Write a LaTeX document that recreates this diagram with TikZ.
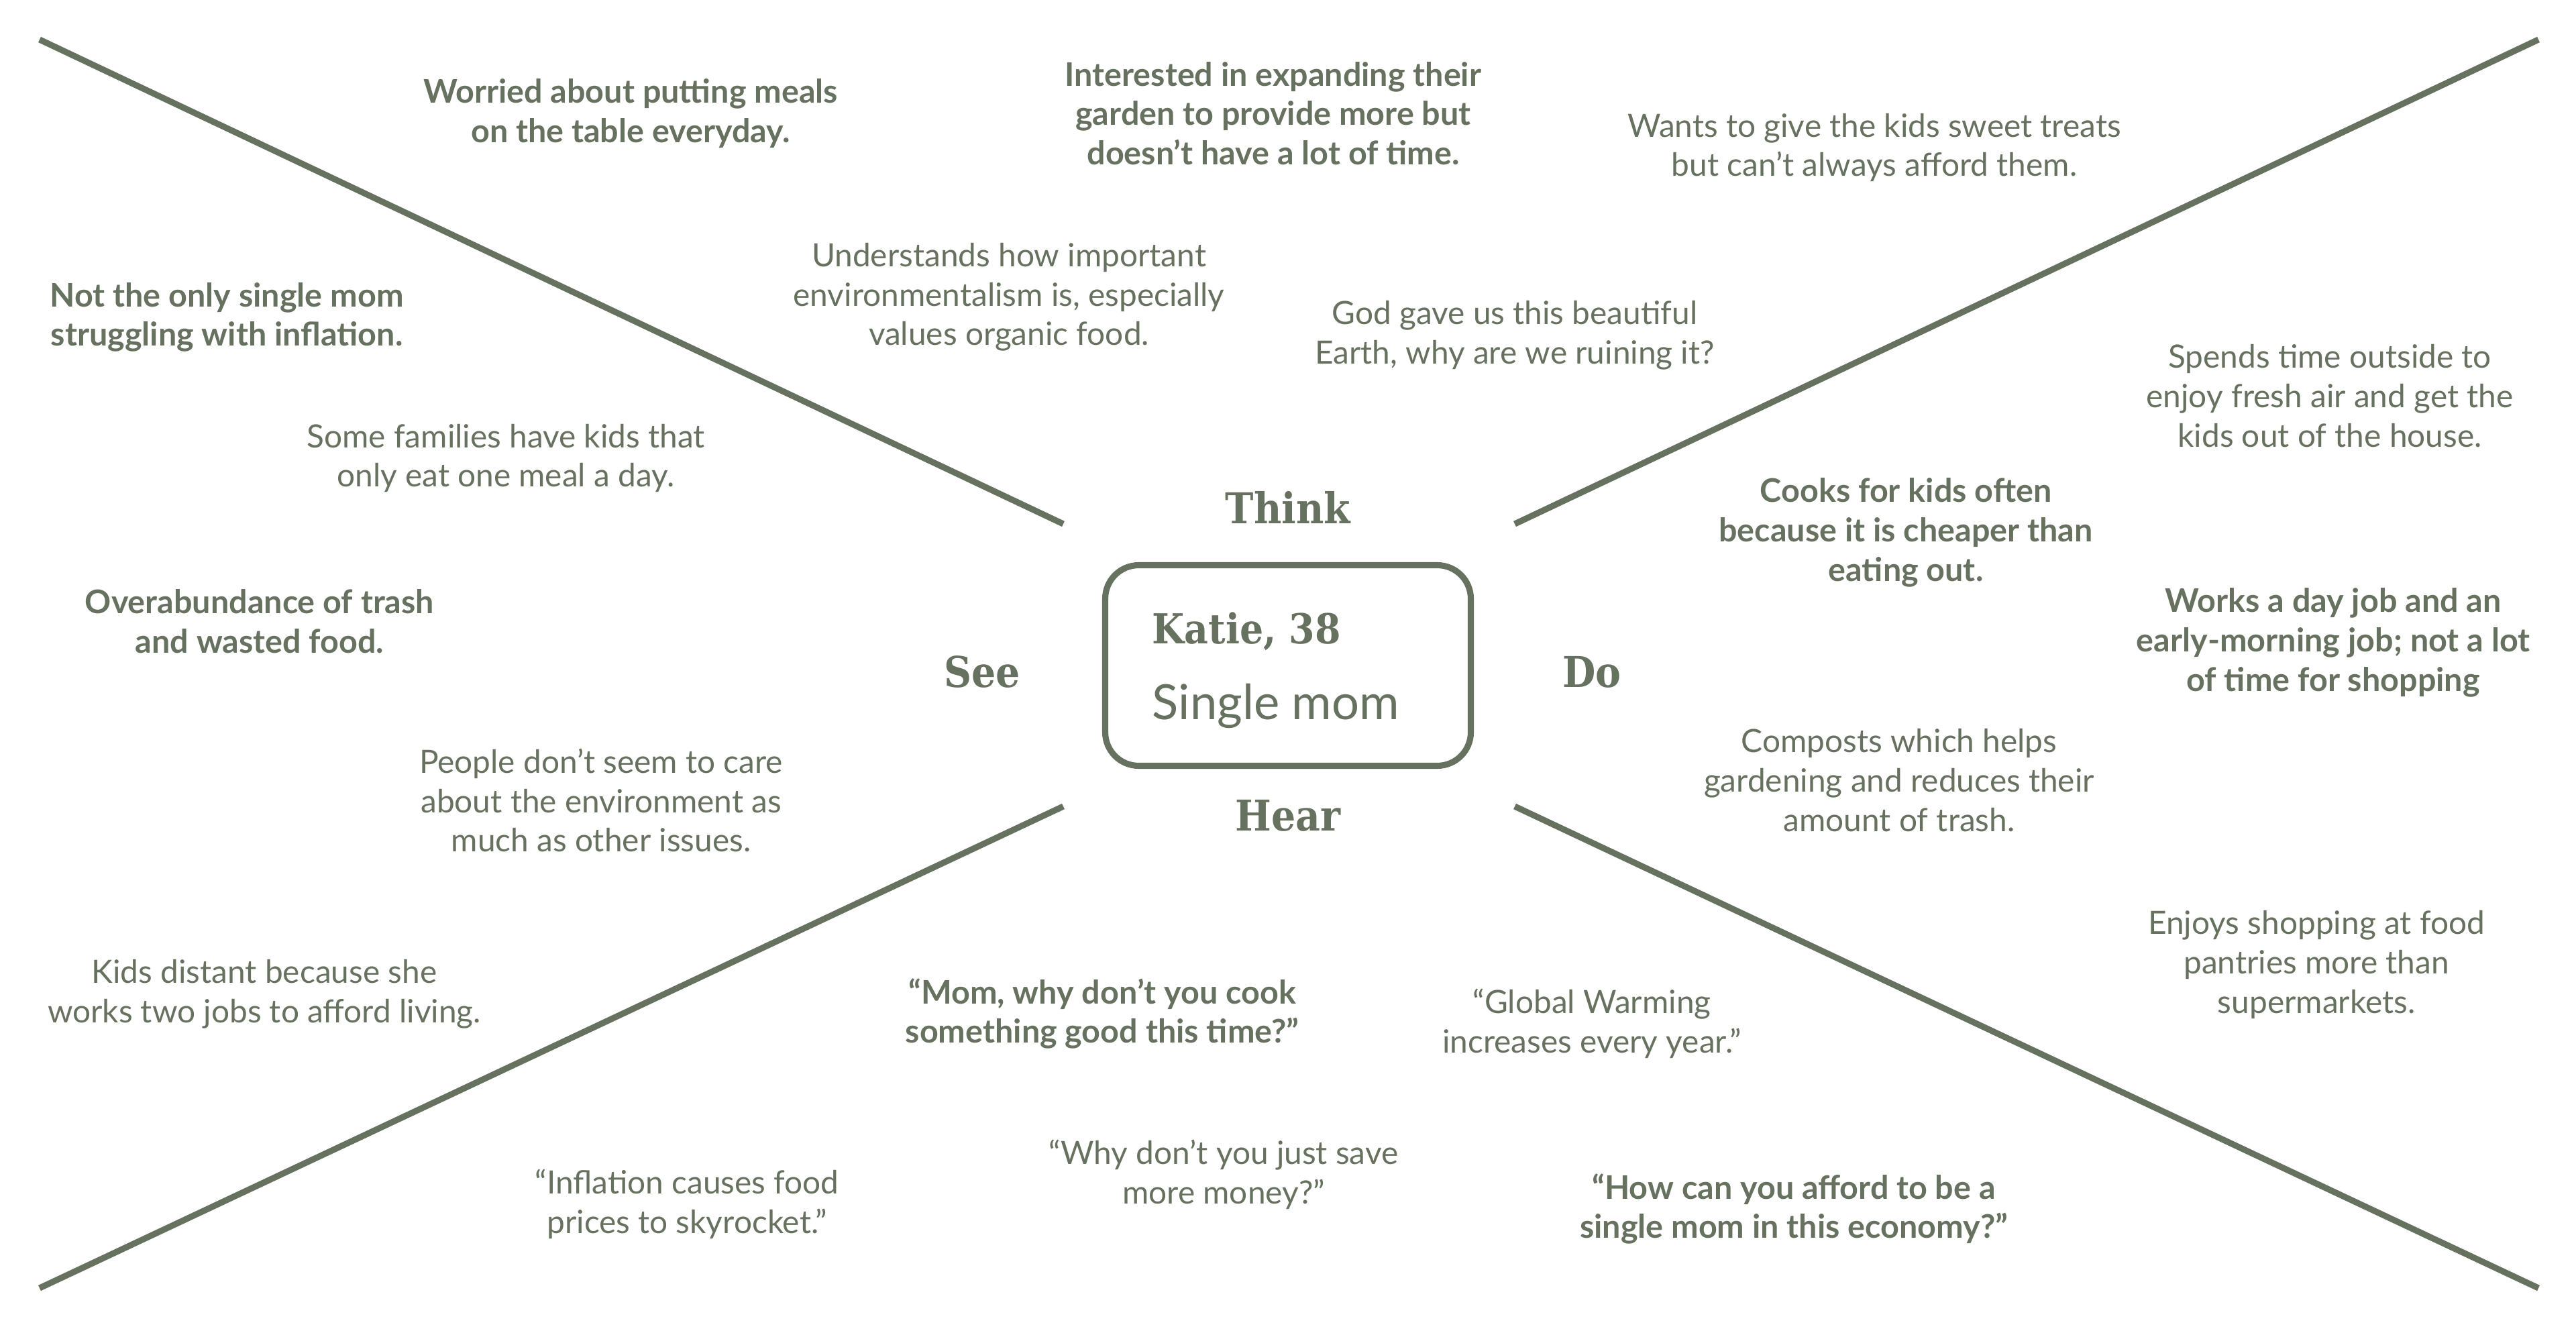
\documentclass[tikz,border=0pt]{standalone}
\usepackage{fontspec}
\setmainfont{Lato}
\newfontfamily\headfont{DejaVu Serif Condensed}
\usetikzlibrary{positioning}
\definecolor{sage}{HTML}{67715F}

\begin{document}
\begin{tikzpicture}[x=1cm, y=-1cm,
    note/.style={text=sage, align=center, font=\fontsize{13.6}{16.7}\selectfont},
    boldnote/.style={note, font=\fontsize{13.8}{16.7}\selectfont\bfseries},
    head/.style={text=sage, font=\headfont\bfseries\fontsize{18}{20}\selectfont},
    ray/.style={draw=sage, line width=2.6pt}]
\useasboundingbox (0,0) rectangle (38.4,19.84);

% the four rays
\coordinate (tl-out) at (0.59,0.59);
\coordinate (tl-in)  at (15.85,7.81);
\coordinate (tr-in)  at (22.58,7.81);
\coordinate (tr-out) at (37.84,0.59);
\coordinate (bl-out) at (0.59,19.20);
\coordinate (bl-in)  at (15.85,12.02);
\coordinate (br-in)  at (22.58,12.02);
\coordinate (br-out) at (37.84,19.20);
\foreach \a/\b in {tl-out/tl-in, tr-in/tr-out, bl-out/bl-in, br-in/br-out}
    \draw[ray] (\a) -- (\b);

% persona
\node[draw=sage, line width=2.6pt, rounded corners=0.5cm,
      minimum width=5.45cm, minimum height=2.99cm] (persona) at (19.2,9.92) {};
\node[head, anchor=base west, inner sep=0pt, font=\headfont\bfseries\fontsize{17.5}{20}\selectfont] (name) at (17.17,9.59) {Katie, 38};
\node[text=sage, anchor=base west, inner sep=0pt, font=\fontsize{20.6}{22}\selectfont] (role) at (17.17,10.72) {Single mom};

\node[head, anchor=base] (think) at (19.2,7.80) {Think};
\node[head, anchor=base] (hear)  at (19.2,12.38) {Hear};
\node[head, anchor=base] (see)   at (14.64,10.24) {See};
\node[head, anchor=base] (do)    at (23.73,10.24) {Do};

% think
\node[boldnote] (think1) at (9.40,1.69) {Worried about putting meals\\on the table everyday.};
\node[boldnote] (think2) at (18.98,1.69) {Interested in expanding their\\garden to provide more but\\doesn’t have a lot of time.};
\node[note] (think3) at (27.94,2.20) {Wants to give the kids sweet treats\\but can’t always afford them.};
\node[note] (think4) at (15.04,4.43) {Understands how important\\environmentalism is, especially\\values organic food.};
\node[note] (think5) at (22.58,5.00) {God gave us this beautiful\\Earth, why are we ruining it?};

% see
\node[boldnote] (see1) at (3.38,4.73) {Not the only single mom\\struggling with inflation.};
\node[note] (see2) at (7.54,6.83) {Some families have kids that\\only eat one meal a day.};
\node[boldnote] (see3) at (3.87,9.26) {Overabundance of trash\\and wasted food.};
\node[note] (see4) at (8.96,11.93) {People don’t seem to care\\about the environment as\\much as other issues.};
\node[note] (see5) at (3.94,14.82) {Kids distant because she\\works two jobs to afford living.};

% do
\node[note] (do1) at (34.73,5.90) {Spends time outside to\\enjoy fresh air and get the\\kids out of the house.};
\node[boldnote] (do2) at (28.41,7.94) {Cooks for kids often\\because it is cheaper than\\eating out.};
\node[boldnote] (do3) at (34.78,9.58) {Works a day job and an\\early-morning job; not a lot\\of time for shopping};
\node[note] (do4) at (28.31,11.63) {Composts which helps\\gardening and reduces their\\amount of trash.};
\node[note] (do5) at (34.53,14.38) {Enjoys shopping at food\\pantries more than\\supermarkets.};

% hear
\node[boldnote] (hear1) at (16.43,15.11) {“Mom, why don’t you cook\\something good this time?”};
\node[note] (hear2) at (23.73,15.26) {“Global Warming\\increases every year.”};
\node[note] (hear3) at (10.24,17.95) {“Inflation causes food\\prices to skyrocket.”};
\node[note] (hear4) at (18.24,17.51) {“Why don’t you just save\\more money?”};
\node[boldnote] (hear5) at (26.74,18.02) {“How can you afford to be a\\single mom in this economy?”};
\end{tikzpicture}
\end{document}
